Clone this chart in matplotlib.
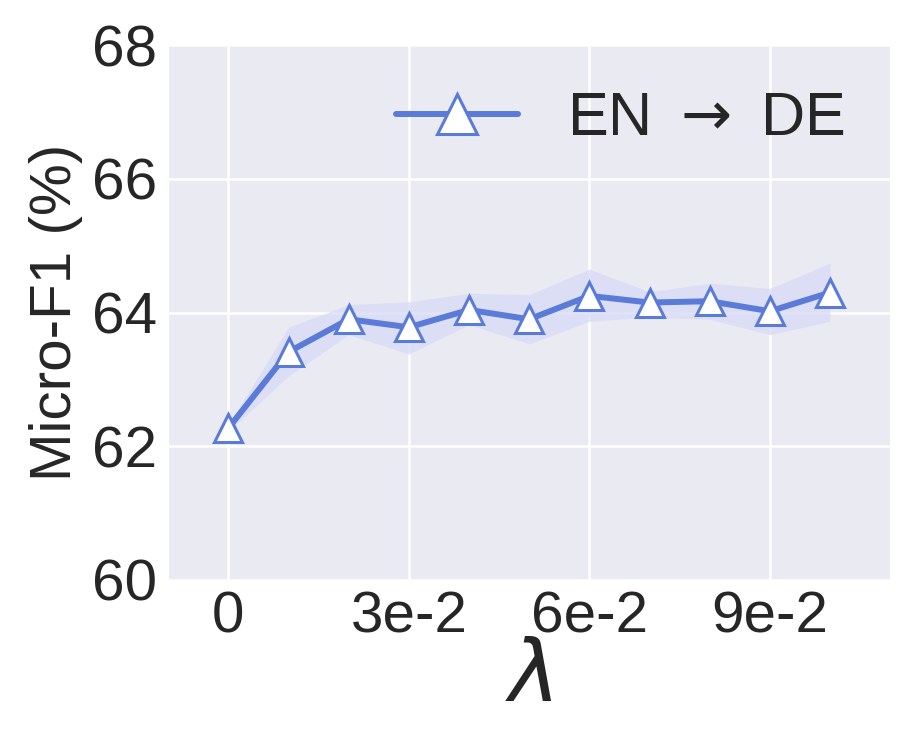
import matplotlib
matplotlib.use("Agg")
from matplotlib import pyplot as plt
import seaborn as sns
import numpy as np

sns.set_style("darkgrid")
plt.rcParams['font.family'] = ['Liberation Sans', 'DejaVu Sans']

# lambda index 0..10 -> 0, 1e-2, ..., 1e-1
steps = np.arange(11)
f1_mean = [62.27, 63.41, 63.90, 63.78, 64.04, 63.90, 64.25, 64.15, 64.17, 64.02, 64.30]
f1_low = [62.22, 63.05, 63.67, 63.38, 63.82, 63.53, 63.87, 63.93, 63.90, 63.67, 63.87]
f1_high = [62.32, 63.78, 64.12, 64.16, 64.29, 64.27, 64.65, 64.31, 64.44, 64.36, 64.74]
xtick_pos = [0, 3, 6, 9]
xtick_labels = ["0", "3e-2", "6e-2", "9e-2"]

fig = plt.figure(figsize=(9.14, 7.55), dpi=100)
ax = fig.add_axes([0.184, 0.232, 0.79, 0.708])

color = "#5b7bd9"
ax.fill_between(steps, f1_low, f1_high, color="#d9dcf6", alpha=0.8, lw=0)
ax.plot(steps, f1_mean, color=color, lw=4.3, marker="^", markersize=20,
        markerfacecolor="white", markeredgecolor=color, markeredgewidth=2.2,
        label=r"EN$\;\rightarrow\;$DE")

ax.set_xlim(-1, 11)
ax.set_ylim(60, 68)
ax.set_yticks([60, 62, 64, 66, 68])
ax.set_xticks(xtick_pos)
ax.set_xticklabels(xtick_labels)
ax.tick_params(labelsize=42, length=0, pad=8)
ax.grid(color="white", lw=1.8)
ax.set_ylabel("Micro-F1 (%)", fontsize=42, labelpad=6)
ax.set_xlabel(r"$\lambda$", fontsize=62, labelpad=-4)

leg = ax.legend(loc="upper right", fontsize=44, frameon=False, handlelength=2.0,
                markerscale=1.45, borderaxespad=0.35, handletextpad=0.8)

fig.savefig("out.png", dpi=100)
